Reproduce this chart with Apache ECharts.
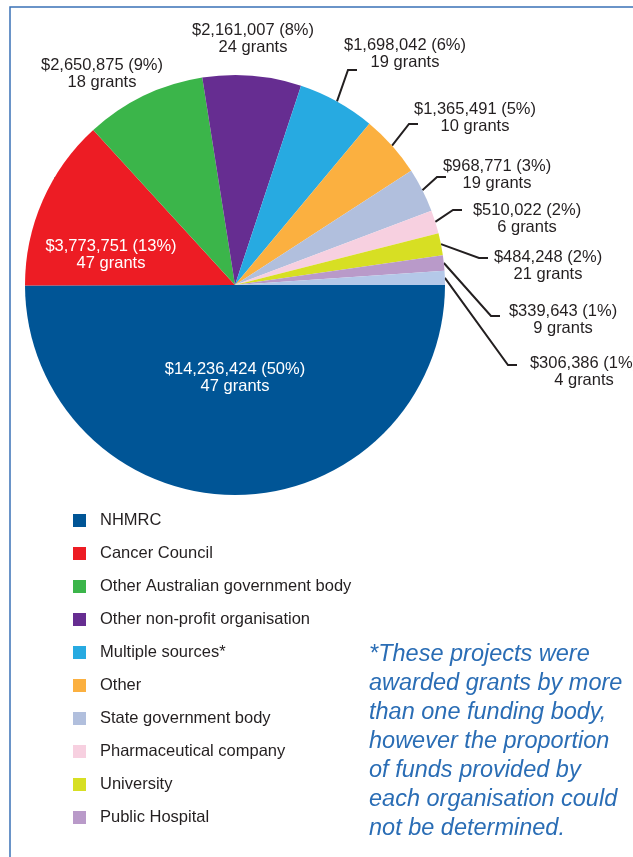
<!DOCTYPE html>
<html>
<head>
<meta charset="utf-8">
<script src="https://cdn.jsdelivr.net/npm/echarts@6/dist/echarts.min.js"></script>
<style>
html,body{margin:0;padding:0;background:#fff;}
#chart{width:633px;height:857px;}
</style>
</head>
<body>
<div id="chart"></div>
<script>
var categories = ['NHMRC','Cancer Council','Other Australian government body','Other non-profit organisation','Multiple sources*','Other','State government body','Pharmaceutical company','University','Public Hospital','Other body'];
var amounts = [14236424,3773751,2650875,2161007,1698042,1365491,968771,510022,484248,339643,306386];
var grants = [47,47,18,24,19,10,19,6,21,9,4];
var legendNames = categories.slice(0,10);
var colors = ['#005596','#ed1c24','#3bb54a','#662d91','#27aae1','#fbb040','#b1bfdd','#f7d0e0','#d7df23','#b99ac9','#b4c8e8'];
var footnote = ['*These projects were','awarded grants by more','than one funding body,','however the proportion','of funds provided by','each organisation could','not be determined.'];

// label layout (positions of the text blocks and leader-line ends)
var labelCenters = {0:[235,378],1:[111,255],2:[102,74],3:[253,39],4:[405,54],5:[475,118],6:[497,175],7:[527,219],8:[548,266],9:[563,320],10:[584,372]};
var lineEnds = {4:[357,70],5:[418,124],6:[446,177],7:[462,210],8:[488,258],9:[500,316],10:[517,365]};

function fmtMoney(v){ return '$' + v.toString().replace(/\B(?=(\d{3})+(?!\d))/g, ','); }

var data = categories.map(function(n,i){
  var d = {name:n, value:amounts[i], itemStyle:{color:colors[i]}};
  if (i < 2) d.label = {position:'inside', color:'#ffffff'};
  if (i === 2 || i === 3) d.labelLine = {show:false};
  return d;
});

var chart = echarts.init(document.getElementById('chart'), null, {renderer:'canvas'});
chart.setOption({
  animation:false,
  color: colors,
  legend:{
    data: legendNames,
    orient:'vertical',
    left:73, top:512, padding:0,
    itemWidth:13, itemHeight:13, itemGap:16,
    icon:'rect',
    selectedMode:false,
    textStyle:{fontFamily:'Liberation Sans', fontSize:16.5, color:'#231f20', padding:[0,0,0,9]}
  },
  graphic:[
    {type:'rect', shape:{x:10,y:7,width:700,height:900}, style:{fill:'none', stroke:'#3a72b6', lineWidth:1.5}, silent:true},
    {type:'text', left:369, top:640, style:{text:footnote.join('\n'), fontFamily:'Liberation Sans', fontStyle:'italic', fontSize:23.5, lineHeight:29, fill:'#2a6db5'}}
  ],
  series:[{
    type:'pie',
    center:[235,285],
    radius:210,
    startAngle:0,
    clockwise:true,
    avoidLabelOverlap:false,
    data:data,
    label:{
      show:true,
      position:'outside',
      fontFamily:'Liberation Sans',
      fontSize:16.5,
      lineHeight:17,
      color:'#231f20',
      formatter:function(p){
        return '{t|' + fmtMoney(p.value) + ' (' + Math.round(p.percent) + '%)}\n{t|' + grants[p.dataIndex] + ' grants}';
      },
      rich:{t:{align:'center', fontFamily:'Liberation Sans', fontSize:16.5, lineHeight:17}}
    },
    labelLine:{show:true, length:15, length2:8, lineStyle:{color:'#231f20', width:2}},
    labelLayout:function(p){
      var c = labelCenters[p.dataIndex];
      if (!c) return {};
      var out = {x:c[0], y:c[1], align:'center', verticalAlign:'middle'};
      var e = lineEnds[p.dataIndex];
      if (e && p.labelLinePoints && p.labelLinePoints.length) {
        out.labelLinePoints = [p.labelLinePoints[0], [e[0]-9, e[1]], [e[0], e[1]]];
      }
      return out;
    },
    itemStyle:{borderWidth:0}
  }]
});
</script>
</body>
</html>
